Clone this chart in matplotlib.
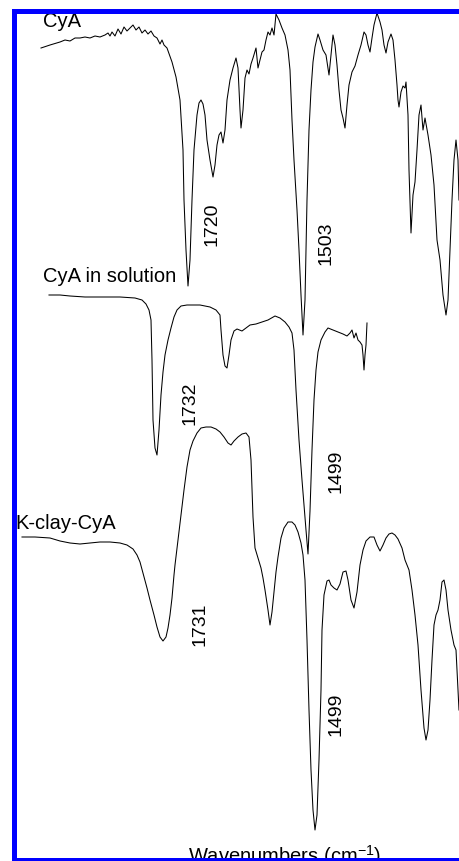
import matplotlib
matplotlib.use('Agg')
import matplotlib.pyplot as plt

plt.rcParams['font.family'] = ['Liberation Sans', 'DejaVu Sans']

# FTIR spectra, wavenumber (cm-1) vs transmittance (a.u., stacked offsets)
cya_wn = [1908.5, 1895, 1880, 1872.5, 1865, 1857.5, 1850, 1842.5, 1835, 1827.5,
          1820, 1812.5, 1808, 1805, 1802, 1797.5, 1793, 1788.5, 1784, 1779.5,
          1775, 1770.5, 1766, 1761.5, 1757, 1752.5, 1748, 1743.5, 1739, 1734.5,
          1730, 1727, 1724, 1719.5, 1712, 1706, 1700, 1695.5, 1694, 1691, 1688,
          1685, 1682, 1679, 1674.5, 1671.5, 1668.5, 1665.5, 1662.5, 1659.5, 1655,
          1650.5, 1647.5, 1644.5, 1641.5, 1638.5, 1635.5, 1632.5, 1629.5, 1625,
          1620.5, 1616, 1613, 1610, 1608.5, 1605.5, 1602.5, 1599.5, 1596.5,
          1593.5, 1590.5, 1586, 1583, 1580, 1577, 1574, 1571, 1568, 1565, 1562,
          1559, 1556, 1551.5, 1547, 1542.5, 1538, 1535, 1532, 1529, 1524.5,
          1521.5, 1518.5, 1515.5, 1512.5, 1509.5, 1506.5, 1503.5, 1500.5, 1497.5,
          1493, 1490, 1485.5, 1481, 1476.5, 1473.5, 1470.5, 1467.5, 1464.5,
          1461.5, 1458.5, 1455.5, 1452.5, 1449.5, 1446.5, 1442, 1437.5, 1433,
          1428.5, 1424, 1421, 1418, 1415, 1412, 1409, 1404.5, 1400, 1397, 1394,
          1391, 1388, 1383.5, 1380.5, 1377.5, 1374.5, 1373, 1371.5, 1368.5,
          1365.5, 1362.5, 1361, 1358, 1356.5, 1353.5, 1350.5, 1347.5, 1344.5,
          1341.5, 1338.5, 1335.5, 1332.5, 1328, 1323.5, 1319, 1314.5, 1310,
          1305.5, 1301, 1298, 1295, 1292, 1289, 1286, 1283, 1281.5]
cya_t = [81.2, 81.5, 81.8, 82.0, 81.9, 82.2, 82.2, 82.3, 82.2, 82.4,
         82.3, 82.5, 82.7, 82.4, 82.8, 82.4, 83.1, 82.6, 83.3, 82.9,
         83.2, 83.5, 83.0, 83.3, 82.7, 83.0, 82.6, 82.9, 82.4, 82.2,
         81.6, 82.0, 81.5, 81.2, 79.8, 78.3, 76.0, 71.0, 66.0, 61.0, 57.4,
         60.0, 66.0, 71.0, 74.5, 75.7, 76.0, 75.6, 74.5, 72.0, 70.0,
         68.3, 69.5, 71.5, 72.5, 72.8, 71.7, 73.0, 76.0, 78.0,
         79.2, 80.2, 79.2, 75.0, 73.2, 75.0, 78.2, 79.0, 78.6,
         79.6, 80.2, 81.2, 79.2, 80.0, 80.8, 81.0, 82.0, 82.8, 82.5, 83.2,
         82.5, 84.6, 84.0, 83.2, 82.5, 81.0, 79.0, 74.0, 70.0, 65.0,
         61.0, 56.5, 52.5, 56.0, 66.0, 73.0, 77.0, 79.8, 81.3,
         82.6, 82.0, 81.0, 80.5, 78.5, 80.5, 82.5, 81.5, 79.5,
         77.0, 75.0, 74.2, 73.2, 75.5, 77.5, 78.8, 79.4, 80.5,
         81.5, 82.8, 82.5, 81.5, 80.8, 82.2, 83.5, 84.7, 83.8, 83.0, 81.5,
         80.7, 81.8, 82.6, 82.0, 80.0, 77.5, 76.0, 75.3, 76.8,
         77.4, 77.2, 77.8, 74.5, 69.0, 62.7, 66.5, 67.8, 71.0,
         74.5, 75.5, 73.0, 74.2, 72.5, 70.5, 67.5, 62.0, 60.0,
         56.5, 54.5, 56.0, 61.0, 66.0, 70.0, 72.0, 70.0, 66.0]

sol_wn = [1896.5, 1880, 1865, 1842.5, 1820, 1790, 1767.5, 1757, 1751, 1746.5,
          1743.5, 1742, 1740.5, 1737.5, 1734.5, 1731.5, 1728.5, 1725.5, 1722.5,
          1718, 1713.5, 1709, 1704.5, 1698.5, 1689.5, 1670, 1655, 1646, 1640,
          1638.5, 1635.5, 1632.5, 1629.5, 1626.5, 1623.5, 1619, 1614.5, 1607,
          1601, 1595, 1586, 1577, 1568, 1557.5, 1550, 1542.5, 1536.5, 1532,
          1529, 1526, 1521.5, 1517, 1514, 1511, 1508, 1505, 1502, 1499, 1496,
          1493, 1488.5, 1482.5, 1478, 1470.5, 1463, 1455.5, 1449.5, 1445, 1442,
          1439, 1436, 1433, 1430, 1427, 1425.5, 1424, 1422.5, 1421, 1419.5]
sol_t = [56.5, 56.5, 56.4, 56.3, 56.3, 56.3, 56.2, 56.0, 55.6, 55.0,
         54.0, 50.0, 44.0, 41.2, 40.5, 43.0, 46.5, 48.8, 50.5,
         52.0, 53.2, 54.3, 55.0, 55.4, 55.5, 55.5, 55.3, 55.0, 54.5,
         53.0, 50.5, 49.4, 49.2, 50.5, 52.0, 52.9, 53.1, 52.9,
         53.2, 53.5, 53.6, 53.8, 54.0, 54.4, 54.2, 53.8, 53.3, 52.7,
         51.0, 47.0, 42.0, 38.0, 35.5, 33.0, 30.6, 34.9, 41.0, 46.0, 49.0,
         50.8, 52.0, 52.8, 53.2, 53.0, 52.8, 52.6, 52.4, 52.7, 53.0,
         52.2, 52.7, 52.0, 51.8, 51.5, 50.5, 49.0, 50.5, 51.5, 53.7]

clay_wn = [1937, 1917.5, 1895, 1880, 1865, 1850, 1835, 1820, 1805, 1790,
           1779.5, 1770.5, 1764.5, 1760, 1755.5, 1749.5, 1745, 1739, 1734.5,
           1730, 1725.5, 1721, 1718, 1715, 1712, 1709, 1707.5, 1703, 1698.5,
           1694, 1689.5, 1685, 1680.5, 1674.5, 1668.5, 1661, 1653.5, 1646, 1640,
           1634, 1628, 1623.5, 1619, 1613, 1607, 1601, 1596.5, 1593.5, 1592,
           1590.5, 1587.5, 1583, 1578.5, 1575.5, 1572.5, 1568, 1565, 1562, 1559,
           1556, 1553, 1548.5, 1544, 1538, 1532, 1527.5, 1523, 1518.5, 1515.5,
           1512.5, 1509.5, 1506.5, 1503.5, 1500.5, 1497.5, 1494.5, 1491.5,
           1488.5, 1487, 1484, 1479.5, 1476.5, 1473.5, 1469, 1464.5, 1460,
           1455.5, 1451, 1448, 1443.5, 1439, 1434.5, 1430, 1425.5, 1421, 1415,
           1409, 1404.5, 1400, 1395.5, 1391, 1386.5, 1382, 1377.5, 1373, 1367,
           1362.5, 1356.5, 1352, 1347.5, 1343, 1338.5, 1334, 1331, 1328, 1325,
           1322, 1319, 1316, 1313, 1310, 1307, 1304, 1301, 1298, 1293.5, 1289,
           1286, 1284.5, 1281.5]
clay_t = [32.3, 32.3, 32.2, 31.9, 31.7, 31.6, 31.7, 31.8, 31.8, 31.7,
          31.5, 31.1, 30.5, 29.8, 28.7, 27.2, 26.0, 24.5, 23.3,
          22.3, 21.9, 22.3, 23.2, 24.5, 26.2, 28.5, 29.5, 32.0, 34.5,
          37.0, 39.3, 41.0, 41.9, 42.7, 43.2, 43.3, 43.3, 43.1, 42.8,
          42.3, 41.7, 41.5, 41.9, 42.3, 42.6, 42.7, 42.3, 40.0, 37.0,
          34.3, 31.2, 30.2, 29.2, 28.2, 27.0, 25.0, 23.5, 24.8, 26.8,
          28.8, 30.3, 32.2, 33.2, 33.8, 33.8, 33.5, 32.8, 31.7, 30.5,
          28.0, 22.0, 15.0, 9.0, 5.0, 3.0, 4.5, 10.0,
          17.0, 23.0, 26.5, 27.9, 28.0, 27.5, 27.2, 27.0, 27.6,
          28.8, 28.9, 28.0, 26.0, 25.2, 26.8, 29.5, 31.0, 31.9, 32.3,
          32.3, 31.5, 30.9, 31.5, 32.2, 32.6, 32.7, 32.5, 32.1, 31.2,
          30.0, 29.0, 27.0, 24.5, 21.5, 17.0, 13.2, 12.0, 13.0, 16.0,
          20.0, 23.5, 24.5, 25.0, 26.0, 27.8, 28.0, 27.0, 25.0, 23.0, 21.5,
          21.0, 19.0, 15.0]

names = ['CyA', 'CyA in solution', 'K-clay-CyA']
name_wn = [1905.5, 1905.5, 1947.5]
name_t = [83.3, 57.8, 33.1]

peak_labels = ['1720', '1503', '1732', '1499', '1731', '1499']
peak_wn = [1651.25, 1481.75, 1685, 1466.75, 1670, 1466.75]
peak_t = [63.6, 61.65, 45.65, 38.9, 23.6, 14.6]

fig = plt.figure(figsize=(4.59, 8.61), dpi=100)
ax = fig.add_axes([13.5 / 459, 1 / 861, 446.5 / 459, 849.5 / 861])

for wn, t in [(cya_wn, cya_t), (sol_wn, sol_t), (clay_wn, clay_t)]:
    ax.plot(wn, t, color='black', lw=0.75)

for n, x, y in zip(names, name_wn, name_t):
    ax.text(x, y, n, fontsize=14.5, ha='left', va='baseline', zorder=1)

for lab, x, y in zip(peak_labels, peak_wn, peak_t):
    ax.text(x, y, lab, fontsize=14, rotation=90, ha='center', va='center')

ax.text(1542.5, -0.3, r'Wavenumbers (cm$^{\mathregular{-1}}$)', fontsize=14.5,
        ha='center', va='baseline', zorder=1)

ax.set_xlim(1949.75, 1280)
ax.set_ylim(0, 84.95)
ax.set_xticks([])
ax.set_yticks([])
for side in ['left', 'top', 'bottom']:
    ax.spines[side].set_color('#0000ff')
    ax.spines[side].set_linewidth(3.6)
ax.spines['right'].set_visible(False)

fig.savefig('out.png', dpi=100)
